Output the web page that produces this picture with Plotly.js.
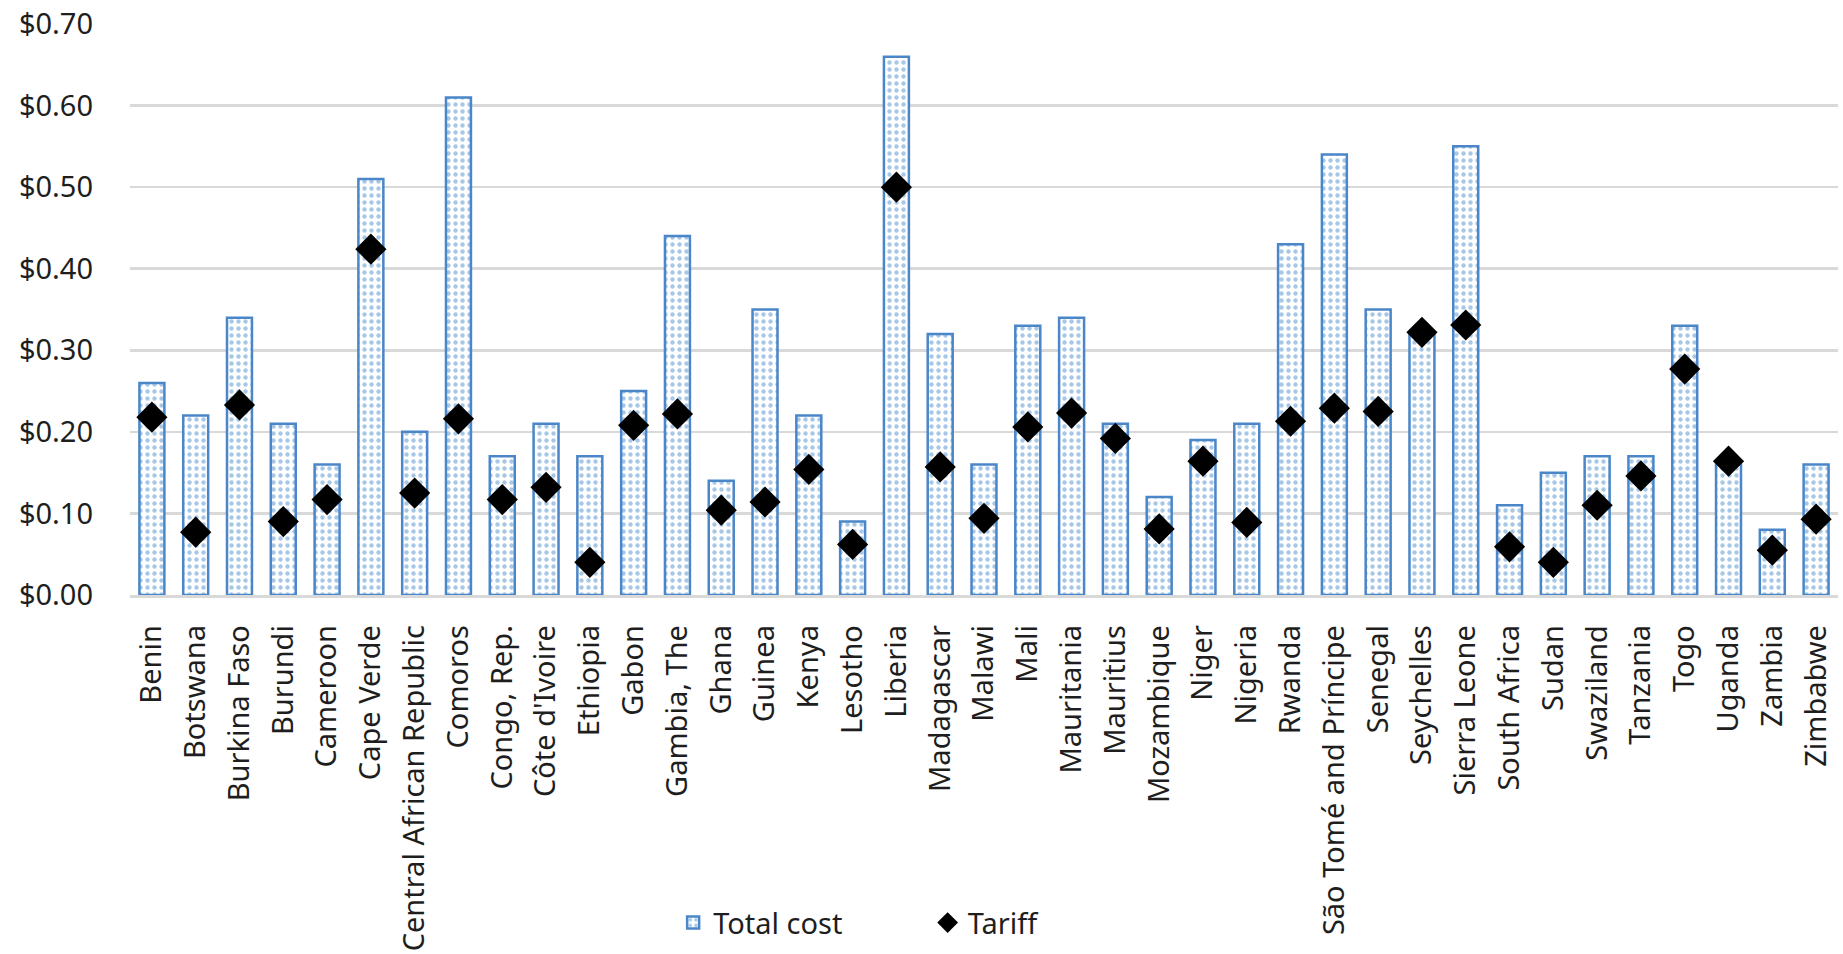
<!DOCTYPE html>
<html>
<head>
<meta charset="utf-8">
<script src="https://cdn.plot.ly/plotly-3.0.1.min.js"></script>
<style>
html,body{margin:0;padding:0;background:#fff;}
#chart{width:1843px;height:954px;}
</style>
</head>
<body>
<div id="chart"></div>
<script>
const countries = [
  "Benin","Botswana","Burkina Faso","Burundi","Cameroon","Cape Verde",
  "Central African Republic","Comoros","Congo, Rep.","Côte d'Ivoire","Ethiopia",
  "Gabon","Gambia, The","Ghana","Guinea","Kenya","Lesotho","Liberia","Madagascar",
  "Malawi","Mali","Mauritania","Mauritius","Mozambique","Niger","Nigeria","Rwanda",
  "São Tomé and Príncipe","Senegal","Seychelles","Sierra Leone","South Africa",
  "Sudan","Swaziland","Tanzania","Togo","Uganda","Zambia","Zimbabwe"
];
const totalCost = [
  0.26,0.22,0.34,0.21,0.16,0.51,
  0.20,0.61,0.17,0.21,0.17,
  0.25,0.44,0.14,0.35,0.22,0.09,0.66,0.32,
  0.16,0.33,0.34,0.21,0.12,0.19,0.21,0.43,
  0.54,0.35,0.32,0.55,0.11,
  0.15,0.17,0.17,0.33,0.16,0.08,0.16
];
const tariff = [
  0.218,0.077,0.233,0.090,0.117,0.424,
  0.125,0.216,0.117,0.132,0.040,
  0.208,0.222,0.104,0.114,0.154,0.062,0.500,0.157,
  0.094,0.206,0.223,0.192,0.081,0.164,0.089,0.213,
  0.229,0.225,0.322,0.331,0.059,
  0.040,0.110,0.146,0.277,0.164,0.055,0.093
];
const yTicks = [0,0.1,0.2,0.3,0.4,0.5,0.6,0.7];

const FONT = "Noto Sans, Open Sans, sans-serif";
const TXT = "#1e1e1e";

const traces = [
  {
    type: "bar",
    name: "Total cost",
    x: countries,
    y: totalCost,
    legend: "legend",
    marker: {
      color: "#ffffff",
      line: {color: "#4a86c8", width: 2.5},
      pattern: {shape: ".", fgcolor: "#4f8fd0", bgcolor: "#ffffff", size: 7, solidity: 0.32, fillmode: "overlay"}
    },
    hoverinfo: "x+y"
  },
  {
    type: "scatter",
    mode: "markers",
    name: "Tariff",
    x: countries,
    y: tariff,
    legend: "legend2",
    marker: {symbol: "diamond", color: "#000000", size: 24, line: {width: 0}},
    hoverinfo: "x+y"
  }
];

const layout = {
  width: 1843,
  height: 954,
  paper_bgcolor: "#ffffff",
  plot_bgcolor: "#ffffff",
  margin: {l: 130, r: 5, t: 24, b: 357},
  font: {family: FONT, size: 29, color: TXT},
  bargap: 0.43,
  showlegend: true,
  xaxis: {
    type: "category",
    range: [-0.5, countries.length - 0.5],
    tickangle: -90,
    ticks: "",
    showgrid: false,
    showline: true,
    linecolor: "#d9d9d9",
    linewidth: 2.5,
    zeroline: false,
    automargin: false,
    ticklabelstandoff: 16,
    tickfont: {family: FONT, size: 29, color: TXT}
  },
  yaxis: {
    range: [0, 0.7],
    tickmode: "array",
    tickvals: yTicks,
    tickformat: "$.2f",
    ticks: "",
    showgrid: true,
    gridcolor: "#d9d9d9",
    gridwidth: 2.5,
    zeroline: false,
    showline: false,
    automargin: false,
    ticklabelstandoff: 36,
    tickfont: {family: FONT, size: 29, color: TXT}
  },
  legend: {
    orientation: "h",
    x: 0.318, xanchor: "left",
    y: -0.574, yanchor: "middle",
    bgcolor: "rgba(0,0,0,0)",
    font: {family: FONT, size: 29, color: TXT}
  },
  legend2: {
    orientation: "h",
    x: 0.467, xanchor: "left",
    y: -0.574, yanchor: "middle",
    bgcolor: "rgba(0,0,0,0)",
    font: {family: FONT, size: 29, color: TXT}
  }
};

Plotly.newPlot("chart", traces, layout, {displayModeBar: false, staticPlot: true});
</script>
</body>
</html>
